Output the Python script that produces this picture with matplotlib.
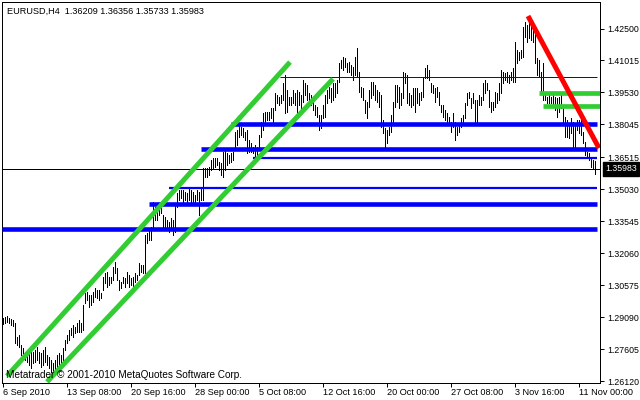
import matplotlib
matplotlib.use("Agg")
import matplotlib.pyplot as plt
import matplotlib.transforms as mtransforms

# chart header
symbol = "EURUSD,H4"
last_ohlc = [1.36209, 1.36356, 1.35733, 1.35983]
copyright_text = "Metatrader © 2001-2010 MetaQuotes Software Corp."

# H4 bars, highs and lows (left to right)
highs = [
    1.2907, 1.2911, 1.2916, 1.2907, 1.2902, 1.2897, 1.2883, 1.2818, 1.2828, 1.2781,
    1.2767, 1.2749, 1.2758, 1.2744, 1.2758, 1.2749, 1.2758, 1.2772, 1.2749, 1.2744,
    1.2758, 1.2772, 1.2735, 1.2726, 1.2712, 1.2698, 1.2712, 1.2735, 1.2744, 1.2735,
    1.2767, 1.2804, 1.2828, 1.2851, 1.2860, 1.2874, 1.2865, 1.2883, 1.2897, 1.2883,
    1.2967, 1.3022, 1.3027, 1.3013, 1.3013, 1.3027, 1.3046, 1.3036, 1.3036,
    1.3022, 1.3097, 1.3115, 1.3120, 1.3097, 1.3097, 1.3143, 1.3166, 1.3138, 1.3083,
    1.3074, 1.3097, 1.3092, 1.3120, 1.3106, 1.3092, 1.3097, 1.3115, 1.3106, 1.3162,
    1.3152, 1.3152, 1.3292, 1.3301, 1.3324, 1.3329, 1.3445, 1.3422, 1.3398, 1.3422,
    1.3417, 1.3384, 1.3375, 1.3361, 1.3352, 1.3371, 1.3361, 1.3431, 1.3487, 1.3500,
    1.3500, 1.3500, 1.3491, 1.3487, 1.3510, 1.3500, 1.3491, 1.3477, 1.3500, 1.3491,
    1.3510, 1.3602,
    1.3602, 1.3602, 1.3607, 1.3640, 1.3649, 1.3649, 1.3649, 1.3630, 1.3626, 1.3677,
    1.3686, 1.3672, 1.3663, 1.3672, 1.3677, 1.3770, 1.3779, 1.3802, 1.3793, 1.3788,
    1.3770, 1.3779, 1.3732, 1.3719, 1.3700, 1.3709, 1.3700, 1.3756, 1.3816, 1.3858,
    1.3862, 1.3862, 1.3862, 1.3881, 1.3881, 1.3950, 1.3941, 1.3932, 1.3941, 1.3997,
    1.4034, 1.3964, 1.3932, 1.3932, 1.3964, 1.3950, 1.3964,
    1.3955, 1.3941, 1.4011, 1.3997, 1.3988, 1.3950, 1.3941, 1.3918, 1.3895, 1.3886,
    1.3848, 1.3848, 1.3895, 1.3941, 1.3964, 1.3978, 1.3974, 1.3997, 1.3997, 1.4011,
    1.4090, 1.4104, 1.4118, 1.4113, 1.4090, 1.4094, 1.4080, 1.4071, 1.4118, 1.4159,
    1.4048, 1.3978, 1.3974, 1.3918, 1.3909, 1.3964, 1.4002, 1.4002, 1.3988, 1.3964,
    1.3955, 1.3941, 1.3825, 1.3788, 1.3779, 1.3793, 1.3848, 1.3909, 1.3988, 1.3988,
    1.3978,
    1.3950, 1.4048, 1.4043, 1.4034, 1.3950, 1.3941, 1.3974, 1.3974, 1.3974, 1.3950,
    1.3955, 1.4025, 1.4066, 1.4080, 1.4057, 1.3997, 1.3988, 1.3974, 1.3978, 1.3955,
    1.3895, 1.3895, 1.3872, 1.3858, 1.3839, 1.3816, 1.3858, 1.3816, 1.3793, 1.3802,
    1.3834, 1.3848, 1.3904, 1.3950, 1.3955, 1.3927, 1.3950, 1.3918, 1.3918, 1.3941,
    1.3932, 1.3997, 1.4011, 1.3997, 1.3964, 1.3909, 1.3909, 1.3955, 1.3950, 1.3997,
    1.4057, 1.4048, 1.4043, 1.4048, 1.4034, 1.4048, 1.4066, 1.4187, 1.4150, 1.4141,
    1.4150, 1.4257, 1.4280, 1.4266, 1.4298, 1.4275, 1.4252, 1.4243, 1.4113, 1.4104,
    1.4048, 1.4090, 1.3955, 1.3932, 1.3941, 1.3932, 1.3941, 1.3932, 1.3927, 1.3932,
    1.3941, 1.3881, 1.3839, 1.3825, 1.3811, 1.3834, 1.3816, 1.3811, 1.3825, 1.3825,
    1.3825, 1.3770, 1.3723, 1.3677, 1.3672, 1.3654, 1.3640, 1.3636,
]
lows = [
    1.2879, 1.2883, 1.2888, 1.2883, 1.2874, 1.2869, 1.2790, 1.2781, 1.2772, 1.2735,
    1.2721, 1.2712, 1.2702, 1.2688, 1.2675, 1.2698, 1.2702, 1.2712, 1.2698, 1.2679,
    1.2688, 1.2702, 1.2688, 1.2675, 1.2656, 1.2651, 1.2656, 1.2679, 1.2688, 1.2698,
    1.2702, 1.2758, 1.2790, 1.2804, 1.2828, 1.2818, 1.2837, 1.2842, 1.2842, 1.2842,
    1.2851, 1.2976, 1.2990, 1.2958, 1.2967, 1.2981, 1.3004, 1.2999, 1.2990,
    1.2999, 1.3036, 1.3069, 1.3050, 1.3060, 1.3069, 1.3083, 1.3115, 1.3083, 1.3036,
    1.3046, 1.3069, 1.3050, 1.3069, 1.3050, 1.3060, 1.3050, 1.3074, 1.3083, 1.3106,
    1.3120, 1.3115, 1.3115, 1.3254, 1.3268, 1.3268, 1.3329, 1.3361, 1.3361, 1.3384,
    1.3394, 1.3324, 1.3315, 1.3315, 1.3306, 1.3315, 1.3292, 1.3306, 1.3422, 1.3454,
    1.3463, 1.3445, 1.3454, 1.3440, 1.3454, 1.3445, 1.3440, 1.3440, 1.3454, 1.3384,
    1.3454, 1.3454,
    1.3561, 1.3561, 1.3570, 1.3593, 1.3602, 1.3607, 1.3616, 1.3593, 1.3570, 1.3561,
    1.3593, 1.3616, 1.3626, 1.3630, 1.3640, 1.3686, 1.3709, 1.3746, 1.3756, 1.3746,
    1.3732, 1.3672, 1.3677, 1.3677, 1.3672, 1.3654, 1.3649, 1.3686, 1.3746, 1.3779,
    1.3816, 1.3825, 1.3825, 1.3834, 1.3802, 1.3872, 1.3904, 1.3895, 1.3904, 1.3918,
    1.3858, 1.3862, 1.3895, 1.3895, 1.3904, 1.3895, 1.3848,
    1.3895, 1.3862, 1.3909, 1.3941, 1.3918, 1.3909, 1.3895, 1.3872, 1.3848, 1.3839,
    1.3779, 1.3788, 1.3834, 1.3839, 1.3904, 1.3927, 1.3909, 1.3918, 1.3932, 1.3950,
    1.4002, 1.4066, 1.4057, 1.4071, 1.4048, 1.4048, 1.4034, 1.4011, 1.4034, 1.4025,
    1.3955, 1.3932, 1.3918, 1.3858, 1.3834, 1.3886, 1.3927, 1.3941, 1.3918, 1.3909,
    1.3886, 1.3793, 1.3765, 1.3700, 1.3719, 1.3756, 1.3770, 1.3816, 1.3886, 1.3909,
    1.3881,
    1.3895, 1.3927, 1.3997, 1.3904, 1.3895, 1.3886, 1.3895, 1.3862, 1.3904, 1.3895,
    1.3918, 1.3932, 1.4020, 1.4020, 1.4011, 1.3955, 1.3950, 1.3909, 1.3932, 1.3895,
    1.3862, 1.3839, 1.3825, 1.3816, 1.3802, 1.3770, 1.3793, 1.3732, 1.3756, 1.3770,
    1.3793, 1.3811, 1.3834, 1.3895, 1.3927, 1.3881, 1.3904, 1.3811, 1.3811, 1.3895,
    1.3895, 1.3918, 1.3950, 1.3964, 1.3886, 1.3862, 1.3872, 1.3886, 1.3904, 1.3918,
    1.3950, 1.3997, 1.4011, 1.4002, 1.3997, 1.4011, 1.4002, 1.4002, 1.4090, 1.4104,
    1.4113, 1.4118, 1.4210, 1.4187, 1.4206, 1.4196, 1.4187, 1.4090, 1.4034, 1.4025,
    1.3950, 1.3918, 1.3918, 1.3904, 1.3904, 1.3904, 1.3895, 1.3872, 1.3839, 1.3862,
    1.3881, 1.3811, 1.3746, 1.3746, 1.3742, 1.3765, 1.3686, 1.3686, 1.3779, 1.3765,
    1.3756, 1.3719, 1.3663, 1.3649, 1.3640, 1.3607, 1.3602, 1.3573,
]

# axis labels
time_ticks = [0, 32, 64, 96, 128, 160, 192, 224, 256, 288]
time_labels = ["6 Sep 2010", "13 Sep 08:00", "20 Sep 16:00", "28 Sep 00:00",
               "5 Oct 08:00", "12 Oct 16:00", "20 Oct 00:00", "27 Oct 08:00",
               "3 Nov 16:00", "11 Nov 00:00"]
price_ticks = [1.42500, 1.41015, 1.39530, 1.38045, 1.36515, 1.35030,
               1.33545, 1.32060, 1.30575, 1.29090, 1.27605, 1.26120]

# drawn objects: levels (price) and the bar they start from
thick_levels = [1.3805, 1.3691, 1.3436, 1.3320]
thick_starts = [114, 99, 73, -0.5]
thin_levels = [1.3649, 1.3510]
thin_starts = [125, 83]
hairline_level = 1.4025
hairline_start = 138.5
green_levels = [1.3951, 1.3888]
green_starts = [268, 270]
channel_top = ([2, 143.5], [1.2637, 1.4094])
channel_bottom = ([22, 165], [1.2610, 1.4016])
red_trend = ([262.5, 298], [1.4308, 1.3695])

px = 0.72  # one pixel in points at 100 dpi
fnt = "Liberation Sans"

fig = plt.figure(figsize=(6.4, 4.0), dpi=100)
ax = fig.add_axes([2 / 640, 17.5 / 400, 598 / 640, 380.5 / 400])
ax.set_xlim(-0.5, 298.5)
ax.set_ylim(1.2607, 1.4373)

# bars (one pixel wide, no smoothing, like the terminal draws them)
bar_x = list(range(len(highs)))
ax.vlines(bar_x, lows, highs, colors="black", linewidth=px, antialiased=False, zorder=2)

# bid line
ax.axhline(last_ohlc[3], color="black", linewidth=px, zorder=1)

# support/resistance lines
for lvl, x0 in zip(thick_levels, thick_starts):
    ax.hlines(lvl, x0, 297, colors="#0000ff", linewidth=3.3, zorder=3)
for lvl, x0 in zip(thin_levels, thin_starts):
    ax.hlines(lvl, x0, 297, colors="#0000ff", linewidth=1.6, zorder=3)
ax.hlines(hairline_level, hairline_start, 297, colors="#0000ff", linewidth=px, zorder=3)
for lvl, x0 in zip(green_levels, green_starts):
    ax.hlines(lvl, x0, 298.5, colors="#32cd32", linewidth=3.4, zorder=3)

# trend channel and trend line
ax.plot(*channel_top, color="#32cd32", linewidth=3.6, solid_capstyle="butt", zorder=3)
ax.plot(*channel_bottom, color="#32cd32", linewidth=3.6, solid_capstyle="butt", zorder=3)
ax.plot(*red_trend, color="#ff0000", linewidth=3.6, solid_capstyle="butt", zorder=3)

# axes styling
for s in ax.spines.values():
    s.set_linewidth(px)
ax.yaxis.tick_right()
ax.set_yticks(price_ticks)
ax.set_yticklabels([f"{p:.5f}" for p in price_ticks], fontname=fnt, fontsize=6.3)
ax.set_xticks(time_ticks)
ax.set_xticklabels(time_labels, fontname=fnt, fontsize=6.6, ha="left")
ax.tick_params(axis="y", direction="out", length=3, width=px, pad=2)
ax.tick_params(axis="x", direction="out", length=3, width=px, pad=1)

# current price box
trans = mtransforms.blended_transform_factory(ax.transAxes, ax.transData)
ax.text(1.0085, last_ohlc[3], f"{last_ohlc[3]:.5f}", transform=trans, color="white",
        fontname=fnt, fontsize=6.3, va="center", ha="left",
        bbox=dict(boxstyle="square,pad=0.25", fc="black", ec="black"), zorder=5)

# header and copyright
header = symbol + "  " + " ".join(f"{v:.5f}" for v in last_ohlc)
fig.text(7 / 640, 1 - 11 / 400, header, fontname=fnt, fontsize=6.6, va="center", ha="left")
fig.text(6 / 640, 1 - 375 / 400, copyright_text, fontname=fnt, fontsize=7.2,
         va="center", ha="left")

fig.savefig("out.png", dpi=100)
